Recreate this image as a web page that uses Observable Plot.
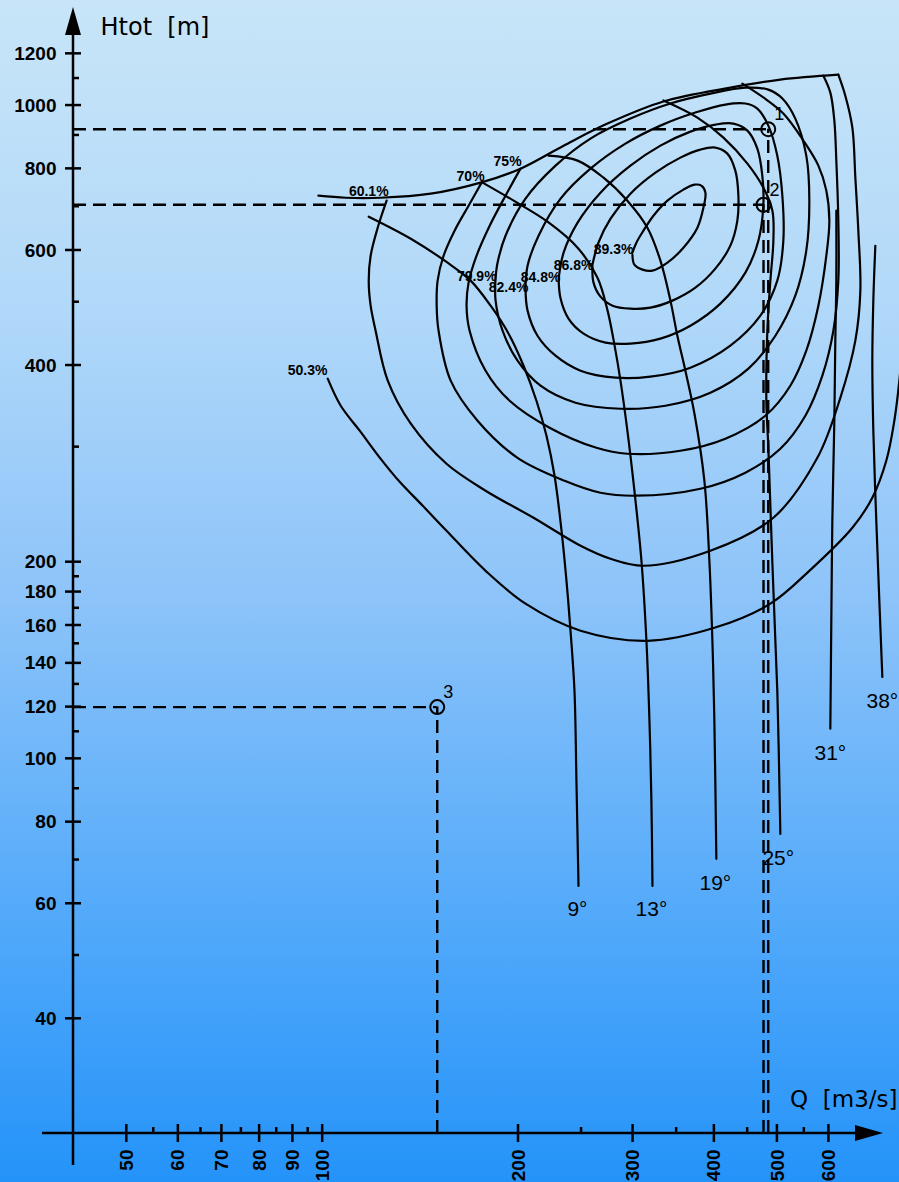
<!DOCTYPE html>
<html><head><meta charset="utf-8">
<script src="https://cdn.jsdelivr.net/npm/d3@7"></script>
<script src="https://cdn.jsdelivr.net/npm/@observablehq/plot@0.6"></script>
<style>
html,body{margin:0;padding:0;}
body{width:899px;height:1182px;overflow:hidden;background:linear-gradient(to bottom,#c8e5f8 0%,#b2d9f9 25%,#8ec4f9 50%,#58acfa 75%,#2493f9 100%);}
#chart svg{display:block;}
</style></head><body><div id="chart"></div>
<script>
// ---- axis ticks ----
const qTicksMajor = [50,60,70,80,90,100,200,300,400,500,600];
const qTicksMinor = [55,65,75,85,95,250,350,450,550];
const hTicksMajor = [40,60,80,100,120,140,160,180,200,400,600,800,1000,1200];
const hTicksMinor = [50,70,90,110,130,150,170,190,300,500,700,900,1100];

// ---- efficiency contours [Q m3/s, Htot m] ----
const eta893 = [[299.3,591.1],[301.4,570.6],[310.1,560.8],[321.3,558.8],[338.8,574.7],[358.5,606.0],[376.7,650.2],[384.8,697.7],[387.5,735.7],[382.0,754.0],[372.8,756.7],[358.5,743.5],[338.8,715.2],[322.4,678.2],[311.2,643.4],[303.5,616.7],[299.3,595.4]];
const eta868 = [[259.8,566.7],[260.8,535.7],[267.3,509.9],[279.0,493.9],[297.2,488.8],[319.0,490.5],[344.8,502.8],[374.0,526.3],[401.4,562.8],[423.3,610.3],[433.9,666.5],[435.5,727.8],[430.8,795.0],[418.8,844.2],[401.4,862.2],[380.7,856.2],[354.7,832.3],[324.7,789.4],[297.2,733.1],[277.0,671.2],[265.4,616.7],[259.8,570.6]];
const eta848 = [[230.5,543.3],[232.1,506.4],[238.7,471.9],[251.8,447.5],[272.1,433.6],[297.2,432.1],[330.5,439.8],[367.5,460.3],[408.6,497.5],[446.4,554.9],[467.4,621.1],[475.7,702.6],[474.0,781.0],[465.7,859.3],[449.6,915.5],[427.8,938.4],[401.4,935.0],[367.5,912.3],[330.5,868.2],[297.2,809.1],[267.3,735.7],[246.5,661.8],[234.6,595.4],[230.5,543.3]];
const eta824 = [[205.0,524.5],[206.5,485.4],[213.9,444.3],[228.0,414.1],[249.1,392.8],[281.9,383.2],[319.0,384.6],[367.5,397.0],[423.3,429.0],[470.7,476.8],[499.8,539.5],[510.6,621.1],[508.8,727.8],[499.8,838.1],[484.2,931.7],[465.7,989.5],[446.4,1007.2],[415.9,1003.6],[374.0,975.6],[330.5,931.7],[292.0,874.4],[258.0,800.6],[232.1,720.3],[214.7,632.0],[206.5,568.6],[205.0,524.5]];
const eta799 = [[184.4,545.2],[184.4,502.8],[189.0,452.3],[199.3,406.9],[216.2,372.5],[244.7,350.8],[286.9,343.5],[336.4,347.1],[394.4,363.4],[451.2,395.6],[496.4,444.3],[532.7,511.6],[553.8,599.6],[559.8,715.2],[553.8,838.1],[532.7,955.1],[508.8,1025.2],[484.2,1057.7],[446.4,1065],[394.4,1042.8],[342.4,1007.2],[297.2,955.1],[258.0,890.1],[228.0,809.1],[205.0,720.3],[191.0,632.0],[185.7,574.7],[184.4,545.2]];
const eta75 = [[201.4,800.6],[191.0,727.8],[180.6,654.7],[172.4,589.0],[167.6,535.7],[166.4,493.9],[168.2,452.3],[178.0,392.8],[193.8,353.3],[223.2,321.3],[263.5,299.3],[294.0,293.1],[354.7,296.2],[415.9,309.1],[479.1,335.1],[523.4,372.5],[553.8,421.5],[578.0,493.9],[594.5,589.0],[600.9,666.5],[594.5,740.9],[578.0,809.1],[548.1,883.8],[510.6,972.1],[475.7,1028.9],[441.7,1080.4]];
const eta70 = [[175.5,762.1],[167.6,702.6],[159.5,643.4],[153.4,589.0],[150.2,539.5],[149.7,493.9],[150.7,452.3],[157.3,379.2],[173.0,329.3],[199.3,288.9],[235.4,266.5],[267.3,255.5],[302.5,252.8],[380.7,259.1],[446.4,274.2],[505.2,298.3],[552.0,335.1],[586.2,385.9],[609.5,452.3],[620.3,539.5],[620.3,666.5],[615.9,823.6],[611.6,948.4],[603.0,1046.6],[588.3,1111.0]];
const eta601 = [[125.4,715.2],[121.5,650.2],[118.5,589.0],[117.7,539.5],[118.5,493.9],[120.6,452.3],[125.9,379.2],[136.6,325.8],[155.0,282.9],[178.0,257.3],[210.9,233.9],[249.1,211.9],[277.0,202.4],[311.2,197.5],[394.4,208.2],[492.9,233.9],[575.9,288.9],[624.7,357.0],[658.8,436.7],[670.6,520.8],[665.8,643.4],[658.8,775.6],[651.9,925.2],[635.8,1035.4],[620.3,1115]];
const eta503 = [[101.8,381.9],[106.6,347.1],[114.0,317.9],[122.8,287.9],[130.9,266.5],[142.5,244.0],[155.0,223.4],[178.0,194.0],[205.0,172.8],[249.1,157.1],[315.6,151.6],[400.0,158.7],[487.7,172.8],[559.8,194.0],[651.9,225.8],[699.6,251.0],[735.0,285.9],[756.3,329.3],[769.8,379.2],[780.8,452.3]];
const limitLine = [[98.5,727.8],[108.5,722.6],[122.8,722.6],[146.6,733.0],[174.9,762.1],[201.4,800.6],[234.6,868.2],[274.0,938.4],[334.0,1014.4],[423.3,1065],[505.2,1095.9],[620.3,1115]];

// ---- guide vane opening lines ----
const vane9 = [[117.7,676.0],[136.6,625.5],[155.6,574.7],[168.8,539.5],[181.2,493.9],[193.1,447.5],[203.6,399.7],[213.1,353.3],[220.8,312.3],[227.2,271.2],[232.9,223.4],[237.0,187.3],[240.4,157.1],[243.8,127.1],[245.5,92.5],[247.3,63.9]];
const vane13 = [[176.1,762.1],[196.6,715.2],[221.6,664.1],[246.5,606.0],[264.5,545.2],[274.1,485.4],[281.0,429.0],[286.9,379.2],[294.0,317.9],[301.4,257.3],[309.0,201.0],[314.5,151.6],[317.9,114.3],[320.1,86.2],[321.3,63.9]];
const vane19 = [[222.4,838.1],[246.5,823.6],[270.2,775.6],[294.0,715.2],[315.6,650.2],[330.5,578.8],[342.4,502.8],[350.9,444.3],[361.0,392.8],[372.8,337.5],[386.1,266.5],[393.0,201.0],[397.2,151.6],[400.0,114.3],[402.8,70.3]];
const vane25 = [[334.0,1018],[376.7,958.5],[413.0,893.2],[449.6,814.9],[475.7,748.8],[491.2,690.4],[492.9,621.1],[487.7,539.5],[482.5,452.3],[480.8,353.3],[484.2,299.3],[491.2,198.9],[499.8,127.1],[505.2,76.75]];
const vane31 = [[615.9,690.4],[615.9,539.5],[613.7,436.7],[611.6,329.3],[607.3,231.4],[605.1,162.7],[603.0,111.2]];
const vane38 = [[707.1,610.1],[702.1,502.8],[699.6,406.9],[702.1,317.9],[709.5,231.4],[717.2,174.6],[724.8,133.5]];

// ---- labels ----
const effLabelText = ["50.3%","60.1%","70%","75%","79.9%","82.4%","84.8%","86.8%","89.3%"];
const effLabelQ = [94.8,117.7,168.8,192.4,172.5,193.1,216.2,243.0,280.0];
const effLabelH = [392.8,738.3,778.4,820.7,547.1,526.4,545.3,568.6,601.7];
const vaneLabelText = ["9°","13°","19°","25°","31°","38°"];
const vaneLabelQ = [246.4,320.1,401.4,501.6,603.0,724.8];
const vaneLabelH = [58.9,58.9,64.6,70.5,102.1,122.7];

// ---- operating points ----
const pointId = ["1","2","3"];
const pointQ = [484,476,150];
const pointH = [920,705,120];

const xDomain = [41.4, 733];
const yDomain = [26.7, 1398];

const curveSets = {eta893, eta868, eta848, eta824, eta799, eta75, eta70, eta601, eta503, limitLine, vane9, vane13, vane19, vane25, vane31, vane38};
const curveRows = Object.entries(curveSets).flatMap(([id, pts]) => pts.map(([Q, H]) => ({id, Q, H})));
const effLabels = effLabelText.map((t, i) => ({t, Q: effLabelQ[i], H: effLabelH[i]}));
const vaneLabels = vaneLabelText.map((t, i) => ({t, Q: vaneLabelQ[i], H: vaneLabelH[i]}));
const points = pointId.map((id, i) => ({id, Q: pointQ[i], H: pointH[i]}));

function axesDecor(index, scales, values, dim) {
  const x = scales.x, y = scales.y;
  const g = d3.create("svg:g").attr("fill", "none").attr("stroke", "black").attr("stroke-width", 2.5);
  const x0 = dim.marginLeft, y0 = dim.height - dim.marginBottom;
  const top = dim.marginTop, right = dim.width - dim.marginRight;
  g.append("line").attr("x1", x0).attr("x2", x0).attr("y1", y0 + 32).attr("y2", top + 20);
  g.append("line").attr("x1", x0 - 31).attr("x2", right - 20).attr("y1", y0).attr("y2", y0);
  g.append("path").attr("d", `M${x0},${top - 3}L${x0 - 8},${top + 25}L${x0 + 8},${top + 25}Z`).attr("fill", "black").attr("stroke", "none");
  g.append("path").attr("d", `M${right - 2},${y0}L${right - 30},${y0 - 8}L${right - 30},${y0 + 8}Z`).attr("fill", "black").attr("stroke", "none");
  for (const t of hTicksMajor) g.append("line").attr("x1", x0 - 8).attr("x2", x0 + 8).attr("y1", y(t)).attr("y2", y(t));
  for (const t of hTicksMinor) g.append("line").attr("x1", x0).attr("x2", x0 + 6).attr("y1", y(t)).attr("y2", y(t));
  for (const t of qTicksMajor) g.append("line").attr("x1", x(t)).attr("x2", x(t)).attr("y1", y0 - 9).attr("y2", y0 + 9);
  for (const t of qTicksMinor) g.append("line").attr("x1", x(t)).attr("x2", x(t)).attr("y1", y0 - 6).attr("y2", y0);
  return g.node();
}

const chart = Plot.plot({
  width: 899,
  height: 1182,
  marginLeft: 73,
  marginRight: 14,
  marginTop: 10,
  marginBottom: 49,
  style: {background: "transparent", fontFamily: "Liberation Sans, Arial, sans-serif", color: "black"},
  x: {type: "log", domain: xDomain, axis: null},
  y: {type: "log", domain: yDomain, axis: null},
  marks: [
    Plot.ruleY(points, {x1: xDomain[0], x2: "Q", y: "H", stroke: "black", strokeWidth: 2.4, strokeDasharray: "13,7"}),
    Plot.ruleX(points, {x: "Q", y1: yDomain[0], y2: "H", stroke: "black", strokeWidth: 2.4, strokeDasharray: "13,7"}),
    Plot.line(curveRows, {x: "Q", y: "H", z: "id", curve: "catmull-rom", stroke: "black", strokeWidth: 2.2}),
    Plot.dot(points, {x: "Q", y: "H", r: 7, stroke: "black", strokeWidth: 2, fill: "none"}),
    Plot.text(points, {x: "Q", y: "H", text: "id", dx: 11, dy: -15, fontSize: 18}),
    Plot.text(effLabels, {x: "Q", y: "H", text: "t", fontSize: 14, fontWeight: "bold"}),
    Plot.text(vaneLabels, {x: "Q", y: "H", text: "t", fontSize: 21}),
    axesDecor,
    Plot.text(hTicksMajor, {y: d => d, frameAnchor: "left", dx: -17, textAnchor: "end", text: d => String(d), fontSize: 19, fontWeight: "bold"}),
    Plot.text(qTicksMajor, {x: d => d, frameAnchor: "bottom", dy: 16, rotate: -90, textAnchor: "end", lineAnchor: "middle", text: d => String(d), fontSize: 19, fontWeight: "bold"}),
    Plot.text(["Htot\u00a0\u00a0[m]"], {frameAnchor: "top-left", dx: 27, dy: 7, textAnchor: "start", lineAnchor: "top", fontSize: 24, fontFamily: "DejaVu Sans"}),
    Plot.text(["Q\u00a0\u00a0[m3/s]"], {frameAnchor: "bottom-right", dx: 12, dy: -34, textAnchor: "end", lineAnchor: "middle", fontSize: 23, fontFamily: "DejaVu Sans"})
  ]
});
document.getElementById("chart").appendChild(chart);
</script></body></html>
